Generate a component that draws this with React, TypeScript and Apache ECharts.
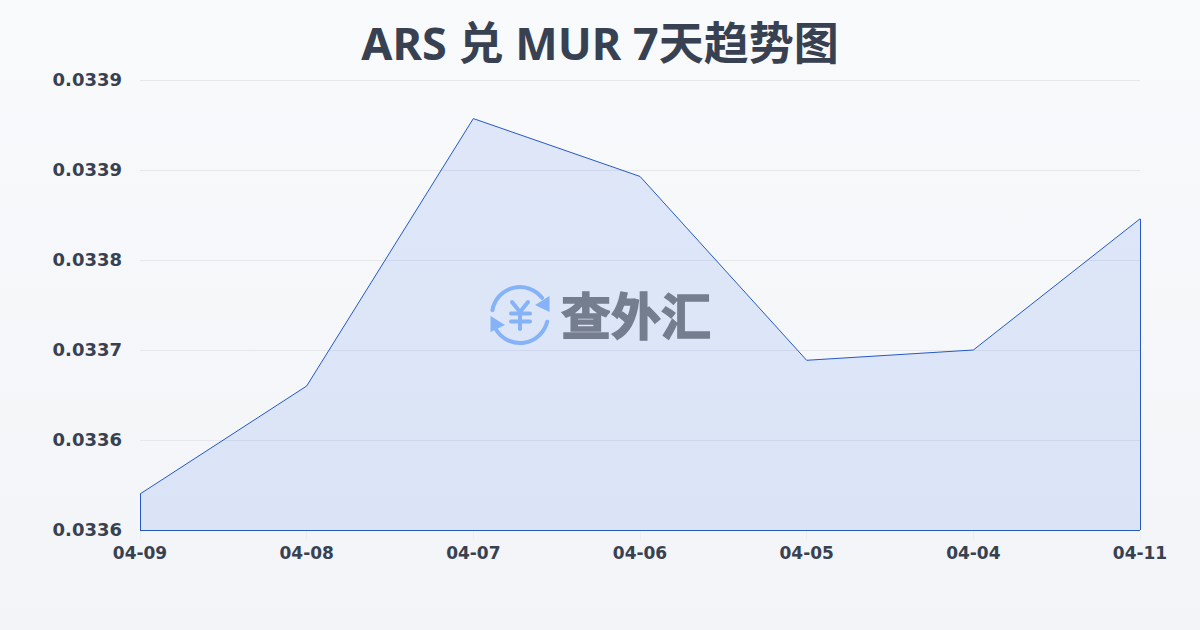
import React, { useEffect, useRef } from "react";
import * as echarts from "echarts";

const titleText = "ARS 兑 MUR 7天趋势图";
const watermarkText = "查外汇";
const categories = ["04-09", "04-08", "04-07", "04-06", "04-05", "04-04", "04-11"];
const rates = [0.033603, 0.033687, 0.033895, 0.03385, 0.033707, 0.033715, 0.033817];
const axisMin = 0.033575;
const axisMax = 0.033925;
const axisStep = 0.00007;

const FONT = '"DejaVu Sans", "Noto Sans CJK SC", sans-serif';
const TITLE_FONT = '"Noto Sans", "Noto Sans CJK SC", sans-serif';
const LINE = "#2459c6";
const ICON = "#86b2f8";

export default function App() {
  const ref = useRef<HTMLDivElement>(null);
  useEffect(() => {
    const chart = echarts.init(ref.current!, null, { renderer: "svg" });
    const last = categories[categories.length - 1];
    const edge = { lineStyle: { color: LINE, width: 1, type: "solid" } };
    const iconStroke = { stroke: ICON, lineWidth: 4, lineCap: "round", lineJoin: "round", fill: "none" };
    chart.setOption({
      animation: false,
      backgroundColor: {
        type: "linear", x: 0, y: 0, x2: 0, y2: 1,
        colorStops: [{ offset: 0, color: "#f9fafc" }, { offset: 1, color: "#f2f4f7" }],
      },
      title: {
        text: titleText, left: "center", top: 15,
        textStyle: { fontFamily: TITLE_FONT, fontSize: 45, fontWeight: "bold", color: "#374151" },
      },
      grid: { left: 140, right: 60, top: 80, bottom: 100 },
      xAxis: {
        type: "category", data: categories, boundaryGap: false,
        axisLine: { show: false },
        axisTick: { show: true, length: 10, lineStyle: { color: "#eceef2" } },
        axisLabel: { fontFamily: FONT, fontSize: 17, fontWeight: "bold", color: "#374151", margin: 14, hideOverlap: false, interval: 0 },
        splitLine: { show: false },
      },
      yAxis: {
        type: "value", min: axisMin, max: axisMax, interval: axisStep,
        axisLine: { show: false }, axisTick: { show: false },
        axisLabel: { fontFamily: FONT, fontSize: 18, fontWeight: "bold", color: "#374151", margin: 18, verticalAlign: "bottom", lineHeight: 16, padding: [0, 0, -7, 0], formatter: (v: number) => v.toFixed(4) },
        splitLine: { show: true, lineStyle: { color: "#e5e7eb", width: 1 } },
      },
      series: [{
        type: "line", data: rates, symbol: "none", smooth: false,
        lineStyle: { color: LINE, width: 1 },
        areaStyle: { color: "rgba(37,99,235,0.17)", origin: "start" },
        markLine: {
          silent: true, symbol: "none", label: { show: false }, animation: false,
          ...edge,
          data: [
            [{ coord: [categories[0], axisMin] }, { coord: [categories[0], rates[0]] }],
            [{ coord: [last, axisMin] }, { coord: [last, rates[rates.length - 1]] }],
            [{ coord: [categories[0], axisMin] }, { coord: [last, axisMin] }],
          ],
        },
      }],
      graphic: [
        { type: "arc", shape: { cx: 520, cy: 315, r: 28, startAngle: 190 * Math.PI / 180, endAngle: 322 * Math.PI / 180, clockwise: true }, style: iconStroke, z: 10 },
        { type: "arc", shape: { cx: 520, cy: 315, r: 28, startAngle: 14 * Math.PI / 180, endAngle: 149 * Math.PI / 180, clockwise: true }, style: iconStroke, z: 10 },
        { type: "polygon", shape: { points: [[549.5, 296], [549.5, 312], [535, 305]] }, style: { fill: ICON }, z: 10 },
        { type: "polygon", shape: { points: [[490.5, 316], [505, 325], [490.5, 332]] }, style: { fill: ICON }, z: 10 },
        { type: "polyline", shape: { points: [[512, 302], [520, 312], [528, 302]] }, style: iconStroke, z: 10 },
        { type: "polyline", shape: { points: [[520, 312], [520, 329]] }, style: iconStroke, z: 10 },
        { type: "line", shape: { x1: 511, y1: 313.5, x2: 530, y2: 313.5 }, style: iconStroke, z: 10 },
        { type: "line", shape: { x1: 511, y1: 321.5, x2: 530, y2: 321.5 }, style: iconStroke, z: 10 },
        {
          type: "text", x: 636, y: 313, z: 10,
          style: { text: watermarkText, fontFamily: '"Noto Sans CJK SC", sans-serif', fontSize: 50, fontWeight: "bold", fill: "#757e8e", stroke: "#757e8e", lineWidth: 1.5, align: "center", verticalAlign: "middle" },
        },
      ],
    });
    return () => chart.dispose();
  }, []);
  return <div ref={ref} style={{ position: "fixed", left: 0, top: 0, width: 1200, height: 630 }} />;
}
